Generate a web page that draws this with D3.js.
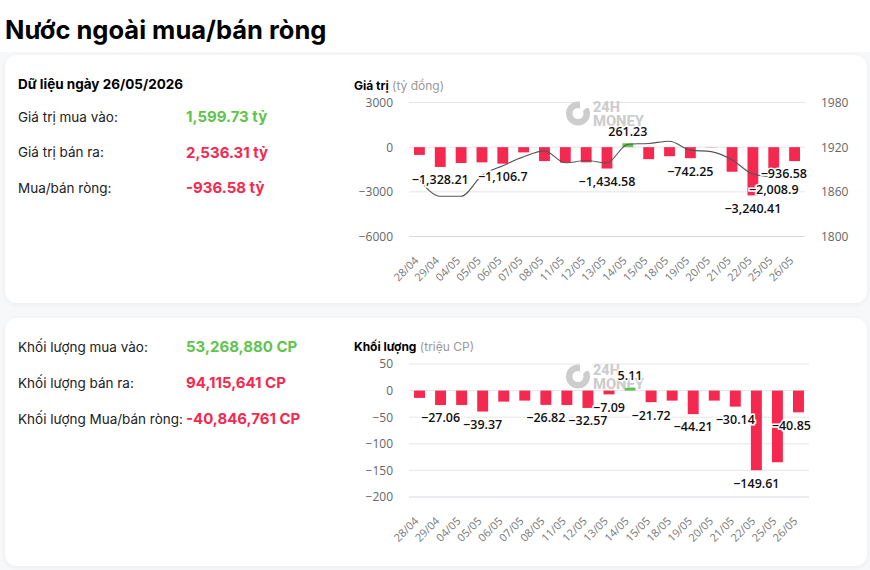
<!DOCTYPE html>
<html><head><meta charset="utf-8">
<script src="https://cdn.jsdelivr.net/npm/d3@7/dist/d3.min.js"></script>
<style>
html,body{margin:0;padding:0;background:#f7f8fa;}
svg{display:block;font-family:Inter,"Noto Sans",sans-serif;}
</style></head><body>
<svg id="c" width="870" height="570"></svg>
<script>
const dates = ["28/04","29/04","04/05","05/05","06/05","07/05","08/05","11/05","12/05","13/05","14/05","15/05","18/05","19/05","20/05","21/05","22/05","25/05","26/05"];
const netValue = [-520,-1328.21,-1065,-1020,-1106.7,-350,-935,-1040,-1020,-1434.58,261.23,-805,-610,-742.25,-15,-1650,-3240.41,-2008.9,-936.58];
const indexLine = [1876,1854,1854,1882,1895,1907,1915,1899,1902,1899,1924,1925,1928,1916,1914,1903,1884,1880,1879];
const netVolume = [-13.7,-27.06,-27,-39.37,-20.7,-18.8,-26.82,-27,-32.57,-7.09,5.11,-21.72,-18.8,-44.21,-18.8,-30.14,-149.61,-134.7,-40.85];
const valueLabelIdx = [1,4,9,10,13,16,17,18];
const volumeLabelIdx = [1,3,6,8,9,10,11,13,15,16,18];
const valueTicks = [3000,0,-3000,-6000];
const indexTicks = [1980,1920,1860,1800];
const volumeTicks = [50,0,-50,-100,-150,-200];
const summaryValue = [["Giá trị mua vào:","1,599.73 tỷ","up"],["Giá trị bán ra:","2,536.31 tỷ","down"],["Mua/bán ròng:","-936.58 tỷ","down"]];
const summaryVolume = [["Khối lượng mua vào:","53,268,880 CP","up"],["Khối lượng bán ra:","94,115,641 CP","down"],["Khối lượng Mua/bán ròng:","-40,846,761 CP","down"]];

const RED="#f5284f", GREEN="#5fc44a";
const svg = d3.select("#c");
const defs = svg.append("defs");
const f = defs.append("filter").attr("id","sh").attr("x","-5%").attr("y","-5%").attr("width","110%").attr("height","120%");
f.append("feDropShadow").attr("dx",0).attr("dy",1).attr("stdDeviation",2).attr("flood-color","#000").attr("flood-opacity",0.06);

svg.append("rect").attr("width",870).attr("height",52).attr("fill","#fff");
svg.append("text").attr("x",5).attr("y",39).attr("font-size",25.5).attr("font-weight",700).attr("fill","#000").text("Nước ngoài mua/bán ròng");

function panel(y){
  svg.append("rect").attr("x",5).attr("y",y).attr("width",862).attr("height",248).attr("rx",12).attr("fill","#fff").attr("filter","url(#sh)");
}
panel(55); panel(318);

svg.append("text").attr("x",18).attr("y",89).attr("font-size",13.5).attr("font-weight",700).attr("fill","#000").text("Dữ liệu ngày 26/05/2026");

function summary(rows, y0, dy){
  rows.forEach((r,i)=>{
    const y = y0 + i*dy;
    svg.append("text").attr("x",18).attr("y",y).attr("dy","0.35em").attr("font-size",13.5).attr("fill","#222").text(r[0]);
    svg.append("text").attr("x",186).attr("y",y).attr("dy","0.35em").attr("font-size",15).attr("font-weight",700)
      .attr("fill", r[2]==="up"?GREEN:RED).text(r[1]);
  });
}
summary(summaryValue,117,35.5);
summary(summaryVolume,347,36);

function watermark(g, x, y){
  const w = g.append("g").attr("transform",`translate(${x},${y})`);
  const c = "#cdcdcd";
  w.append("circle").attr("cx",12).attr("cy",12.5).attr("r",12).attr("fill",c);
  w.append("circle").attr("cx",12).attr("cy",12.5).attr("r",5.5).attr("fill","#fff");
  w.append("path").attr("d","M12 12.5 L21 3.5").attr("stroke","#fff").attr("stroke-width",3.5);
  w.append("rect").attr("x",14).attr("y",-1).attr("width",12).attr("height",8).attr("fill","#fff");
  w.append("text").attr("x",27).attr("y",11).attr("font-size",14.5).attr("font-weight",800).attr("fill",c)
    .attr("font-family","Roboto,sans-serif").text("24H");
  w.append("text").attr("x",27).attr("y",25).attr("font-size",14.5).attr("font-weight",800).attr("fill",c)
    .attr("font-family","Roboto,sans-serif").attr("textLength",51).attr("lengthAdjust","spacingAndGlyphs").text("MONEY");
}

function titleText(x,y,bold,light){
  const t = svg.append("text").attr("x",x).attr("y",y).attr("dy","0.35em").attr("font-size",12);
  t.append("tspan").attr("font-weight",700).attr("fill","#000").text(bold);
  t.append("tspan").attr("fill","#999").text(" "+light);
}

function barChart(opt){
  const g = svg.append("g");
  const x = d3.scaleBand().domain(dates).range([opt.x0,opt.x1]).paddingInner(0.48).paddingOuter(0.24);
  const y = d3.scaleLinear().domain(opt.dom).range([opt.yb,opt.yt]);
  g.selectAll("line.grid").data(opt.ticks).join("line")
    .attr("x1",opt.x0).attr("x2",opt.x1).attr("y1",d=>y(d)).attr("y2",d=>y(d))
    .attr("stroke",(d,i)=>i===opt.ticks.length-1?"#d5d9e0":"#e6e6e6").attr("stroke-width",1);
  const ya = d3.axisLeft(y).tickValues(opt.ticks).tickSize(0).tickPadding(0).tickFormat(d=>d<0?"−"+Math.abs(d):d);
  const ag = g.append("g").attr("transform",`translate(${opt.x0-16},0)`).call(ya);
  ag.select(".domain").remove();
  ag.selectAll("text").attr("font-size",12).attr("fill","#666").attr("font-family","Open Sans,sans-serif");
  if(opt.rightDom){
    const yr = d3.scaleLinear().domain(opt.rightDom).range([opt.yb,opt.yt]);
    const ra = d3.axisRight(yr).tickValues(opt.rightTicks).tickSize(0).tickPadding(0).tickFormat(d3.format("d"));
    const rg = g.append("g").attr("transform",`translate(${opt.x1+16},0)`).call(ra);
    rg.select(".domain").remove();
    rg.selectAll("text").attr("font-size",12).attr("fill","#666").attr("font-family","Open Sans,sans-serif");
    opt.yr = yr;
  }
  const xa = d3.axisBottom(x).tickSize(0).tickPadding(0);
  const xg = g.append("g").attr("transform",`translate(0,${opt.yb})`).call(xa);
  xg.select(".domain").remove();
  xg.selectAll("text").attr("font-size",11).attr("fill","#777").attr("font-family","Open Sans,sans-serif")
    .attr("text-anchor","end").attr("dy","0.35em")
    .attr("transform","translate(-3,22) rotate(-45)");
  watermark(g, opt.wx, opt.wy);
  g.selectAll("rect.bar").data(opt.values).join("rect")
    .attr("x",(d,i)=>x(dates[i])).attr("width",x.bandwidth())
    .attr("y",d=>y(Math.max(0,d))).attr("height",d=>Math.abs(y(d)-y(0)))
    .attr("fill",d=>d>=0?GREEN:RED);
  if(opt.line){
    const ln = d3.line().x((d,i)=>x(dates[i])+x.bandwidth()/2).y(d=>opt.yr(d)).curve(d3.curveMonotoneX);
    g.append("path").attr("d",ln(opt.line)).attr("fill","none").attr("stroke","#555").attr("stroke-width",1.1);
  }
  const fmt = d3.format(",");
  opt.labelIdx.forEach(i=>{
    const v = opt.values[i];
    let cx = x(dates[i])+x.bandwidth()/2;
    const cy = v>=0 ? y(v)-12 : y(v)+13;
    const t = g.append("text").attr("x",cx).attr("y",cy).attr("dy","0.35em").attr("text-anchor","middle")
      .attr("font-size",12.5).attr("font-weight",600).attr("font-family","Open Sans,sans-serif")
      .attr("fill","#111").attr("stroke","#fff").attr("stroke-width",3).attr("paint-order","stroke")
      .text((v<0?"−":"")+fmt(Math.abs(v)));
    const w = t.node().getComputedTextLength();
    if(cx + w/2 > opt.x1+2) t.attr("x", opt.x1+2-w/2);
  });
}

titleText(354,86,"Giá trị","(tỷ đồng)");
barChart({x0:409,x1:805,yt:102.5,yb:236.5,dom:[-6000,3000],ticks:valueTicks,values:netValue,
  rightDom:[1800,1980],rightTicks:indexTicks,line:indexLine,labelIdx:valueLabelIdx,wx:566,wy:101});

titleText(354,347,"Khối lượng","(triệu CP)");
barChart({x0:409,x1:809,yt:364,yb:497,dom:[-200,50],ticks:volumeTicks,values:netVolume,
  labelIdx:volumeLabelIdx,wx:566,wy:364});
</script>
</body></html>
